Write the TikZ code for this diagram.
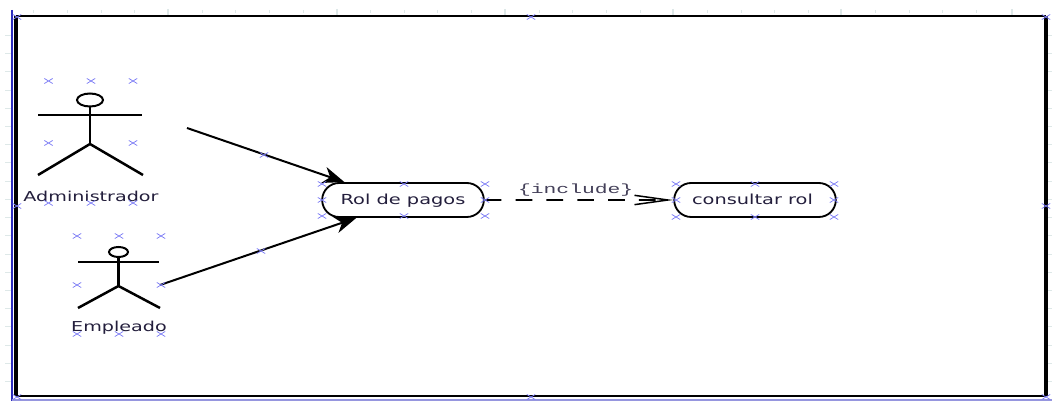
\documentclass[tikz,border=0pt]{standalone}
\usepackage{fontspec}
\setmainfont[FakeStretch=1.4]{DejaVu Sans}
\newfontfamily\incfont[FakeStretch=1.6]{Liberation Mono}
\usetikzlibrary{calc,arrows.meta,positioning,shapes.misc}
\definecolor{handleblue}{RGB}{125,125,245}
\definecolor{rulerblue}{RGB}{45,45,190}
\definecolor{tickgray}{RGB}{222,232,232}
\definecolor{labelink}{RGB}{35,30,60}

\begin{document}
\begin{tikzpicture}[x=0.6pt,y=0.6pt,yscale=-1,xscale=1,
  usecase/.style = {draw, rounded rectangle, line width=1.1pt, minimum width=97pt, minimum height=20.4pt, inner sep=0pt, text=labelink, text height=6.6pt, text depth=1.6pt, font=\fontsize{8.3}{10}\selectfont},
  handle/.style = {cross out, draw=handleblue, line width=.45pt, minimum width=4.6pt, minimum height=2.6pt, inner sep=0pt},
  stick/.style = {line width=1.2pt},
  limb/.style = {line width=1.5pt},
  actorname/.style = {inner sep=0pt, text=labelink, font=\fontsize{8.2}{10}\selectfont},
  assoc/.style = {line width=1.2pt, -{Stealth[length=13pt,width=10pt,inset=4pt]}}]
  \useasboundingbox (0,0) rectangle (1052,401);

  % ruler ticks
  \foreach \t in {33,67,101,134,202,235,269,303,370,404,437,471,539,572,606,640,707,741,774,808,875,909,942,976}
    \draw[tickgray, line width=.5pt] (\t,10) -- (\t,13);
  \foreach \t in {168,337,505,673,841,1012}
    \draw[tickgray, line width=.8pt] (\t,9) -- (\t,15);
  \foreach \t in {35,53,71,90,108,126,144,162,181,199,217,235,254,272,290,308,326,345,363,381}
    \draw[tickgray, line width=.5pt] (5,\t) -- (11,\t) (1047,\t) -- (1052,\t);

  % frame
  \draw[line width=1pt] (16,16) -- (1046,16) (16,396) -- (1046,396);
  \draw[line width=2pt] (16,16) -- (16,396) (1046,16) -- (1046,396);
  \draw[rulerblue, line width=1.2pt] (12,10) -- (12,401);
  \draw[rulerblue!50, line width=.8pt] (12,400) -- (1052,400);

  % actors
  \draw[stick] (90,100) ellipse (13 and 6.5);
  \draw[stick] (38,115) -- (142,115);
  \draw[limb] (90,107) -- (90,144);
  \draw[limb] (38,175) -- (90,144) -- (143,175);
  \node[actorname] (administrador) at (91,196) {Administrador};

  \draw[stick] (118.5,252) ellipse (9.5 and 5);
  \draw[stick] (78,262) -- (159,262);
  \draw[limb] (118.5,257) -- (118.5,286);
  \draw[limb] (78,308) -- (118.5,286) -- (160,308);
  \node[actorname] (empleado) at (119,328) {Empleado};

  % use cases
  \node[usecase] (rol) at (403,200) {Rol de pagos};
  \node[usecase] (consultar) at (755,200) {\hspace{-3pt}consultar rol};

  % connectors
  \coordinate (administradorEnd) at (187,128);
  \coordinate (empleadoEnd) at (160,285);
  \draw[assoc] (administradorEnd) -- (rol.163);
  \draw[assoc] (empleadoEnd) -- (rol.201);
  \draw[line width=1.1pt, dash pattern=on 10pt off 8.5pt, -{Straight Barb[length=20pt,width=5.6pt,line width=.9pt]}] (rol) -- (consultar)
    node[pos=.5, above=1.5pt, xshift=-2pt, inner sep=0pt, text=labelink!85, font=\incfont\fontsize{8}{10}\selectfont]{\{include\}};

  % selection handles
  \foreach \x/\y [count=\i] in {48.5/81,91/81,133/81,48.5/143,133/143,48.5/203,91/203,133/203,
    77/236,119/236,161/236,77/285,161/285,77/334,119/334,161/334,
    264/155,261/251,322/184,404/184,485/184,322/200,485/200,322/216,404/216,485/216,
    676/184,755/184,834/184,676/200,834/200,676/217,755/217,834/217,
    17/17,531/17,1046/17,17/206,1046/206,17/397,531/397,1046/397}
    \node[handle] (hnd\i) at (\x,\y) {};
\end{tikzpicture}
\end{document}
